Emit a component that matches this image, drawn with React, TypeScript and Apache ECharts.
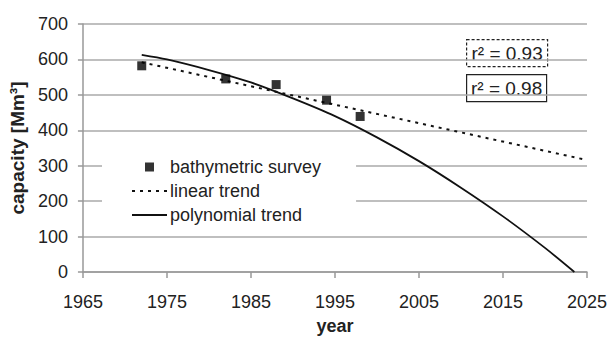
import React, { useEffect, useRef } from "react";
import * as echarts from "echarts";

const surveyYears = [1972, 1982, 1988, 1994, 1998];
const surveyCapacity = [582, 545, 529, 485, 439];

const linearYears = [1972, 2025];
const linearCapacity = [592, 316];

const polyYears = [1972, 1975, 1980, 1985, 1990, 1995, 2000, 2005, 2010, 2015, 2020, 2023.5];
const polyCapacity = [613, 600, 570, 535, 490, 440, 380, 313, 238, 157, 68, 0];

const seriesNames = ["bathymetric survey", "linear trend", "polynomial trend"];
const r2Labels = ["r² = 0.93", "r² = 0.98"];

const FONT = "Liberation Sans, Arial, sans-serif";
const TXT = "#222";

export default function App() {
  const ref = useRef<HTMLDivElement>(null);
  useEffect(() => {
    document.body.style.margin = "0";
    if (!ref.current) return;
    const chart = echarts.init(ref.current, null, { renderer: "svg" });
    const zip = (xs: number[], ys: number[]) => xs.map((x, i) => [x, ys[i]]);
    chart.setOption({
      animation: false,
      textStyle: { fontFamily: FONT },
      grid: { left: 82, right: 22, top: 24, bottom: 66 },
      xAxis: {
        type: "value",
        min: 1965,
        max: 2025,
        interval: 10,
        name: "year",
        nameLocation: "middle",
        nameGap: 45,
        nameTextStyle: { fontFamily: FONT, fontSize: 18, fontWeight: "bold", color: TXT },
        axisLine: { show: true, lineStyle: { color: "#999", width: 1.5 } },
        axisTick: { show: true, length: 6, lineStyle: { color: "#999", width: 1.5 } },
        axisLabel: { fontFamily: FONT, fontSize: 18, color: TXT, margin: 21, formatter: (v: number) => String(v) },
        splitLine: { show: false },
      },
      yAxis: {
        type: "value",
        min: 0,
        max: 700,
        interval: 100,
        name: "capacity [Mm³]",
        nameLocation: "middle",
        nameGap: 48,
        nameTextStyle: { fontFamily: FONT, fontSize: 19, fontWeight: "bold", color: TXT },
        axisLine: { show: true, lineStyle: { color: "#999", width: 1.5 } },
        axisTick: { show: true, length: 5, lineStyle: { color: "#999", width: 1.5 } },
        axisLabel: { fontFamily: FONT, fontSize: 18, color: TXT, margin: 15 },
        splitLine: { show: true, lineStyle: { color: "#aaa", width: 1.5 } },
      },
      legend: {
        orient: "vertical",
        left: 102,
        top: 148,
        padding: [10, 35, 10, 29],
        backgroundColor: "#fff",
        itemWidth: 35,
        itemHeight: 9,
        itemGap: 6,
        symbolKeepAspect: true,
        textStyle: { fontFamily: FONT, fontSize: 18, color: TXT, lineHeight: 18, padding: [0, 0, 0, -2] },
        data: [
          { name: seriesNames[0], icon: "path://M0,0L10,0L10,10L0,10Z" },
          { name: seriesNames[1], itemStyle: { opacity: 0 } },
          { name: seriesNames[2], itemStyle: { opacity: 0 } },
        ],
      },
      series: [
        {
          name: seriesNames[0],
          type: "scatter",
          symbol: "rect",
          symbolSize: 9,
          itemStyle: { color: "#000" },
          data: zip(surveyYears, surveyCapacity),
          z: 5,
        },
        {
          name: seriesNames[1],
          type: "line",
          symbol: "none",
          lineStyle: { color: "#111", width: 2, type: [3, 5] },
          itemStyle: { color: "#111" },
          data: zip(linearYears, linearCapacity),
        },
        {
          name: seriesNames[2],
          type: "line",
          symbol: "none",
          smooth: 0.3,
          lineStyle: { color: "#111", width: 1.8 },
          itemStyle: { color: "#111" },
          data: zip(polyYears, polyCapacity),
        },
      ],
      graphic: [
        {
          type: "group",
          left: 466,
          top: 39,
          children: [
            {
              type: "rect",
              shape: { x: 0, y: 0, width: 81, height: 27 },
              style: { fill: "#fff", stroke: "#222", lineWidth: 1.2, lineDash: [3, 2] },
            },
            {
              type: "text",
              x: 40.5,
              y: 14,
              style: { text: r2Labels[0], fontFamily: FONT, fontSize: 19, fill: TXT, align: "center", verticalAlign: "middle" },
            },
          ],
        },
        {
          type: "group",
          left: 466,
          top: 74,
          children: [
            {
              type: "rect",
              shape: { x: 0, y: 0, width: 80, height: 27 },
              style: { fill: "#fff", stroke: "#222", lineWidth: 1.2 },
            },
            {
              type: "text",
              x: 40,
              y: 14,
              style: { text: r2Labels[1], fontFamily: FONT, fontSize: 19, fill: TXT, align: "center", verticalAlign: "middle" },
            },
          ],
        },
      ],
    });
    return () => chart.dispose();
  }, []);
  return <div ref={ref} style={{ width: 610, height: 340 }} />;
}
